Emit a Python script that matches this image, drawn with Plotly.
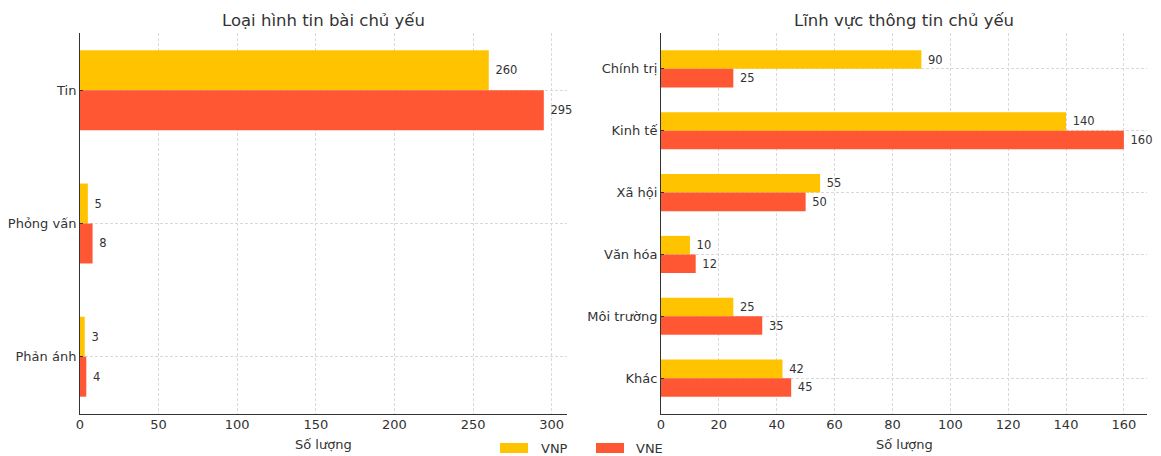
import plotly.graph_objects as go
from plotly.subplots import make_subplots

# Loại hình tin bài
types = ["Tin", "Phỏng vấn", "Phản ánh"]
types_vnp = [260, 5, 3]
types_vne = [295, 8, 4]

# Lĩnh vực thông tin
fields = ["Chính trị", "Kinh tế", "Xã hội", "Văn hóa", "Môi trường", "Khác"]
fields_vnp = [90, 140, 55, 10, 25, 42]
fields_vne = [25, 160, 50, 12, 35, 45]

series_names = ["VNP", "VNE"]
colors = ["#FFC300", "#FF5733"]

W, H = 1161, 456
FONT = "DejaVu Sans"
TXT = "#333333"

fig = make_subplots(rows=1, cols=2)


def add_pair(cats, a, b, col):
    for name, vals, c in zip(series_names, [a, b], colors):
        fig.add_trace(
            go.Bar(
                y=cats, x=vals, orientation="h", name=name,
                marker=dict(color=c, line=dict(width=0)),
                text=["\u00a0" + str(v) for v in vals], textposition="outside",
                textfont=dict(family=FONT, size=11.5, color=TXT),
                constraintext="none", cliponaxis=False, showlegend=False,
            ),
            row=1, col=col,
        )


add_pair(types, types_vnp, types_vne, 1)
add_pair(fields, fields_vnp, fields_vne, 2)

ydom = [1 - 414 / H, 1 - 33 / H]
axis_common = dict(
    showline=True, linecolor="#333333", linewidth=1, mirror=False,
    showgrid=True, gridcolor="#d9d9d9", griddash="3px,2px", gridwidth=1,
    zeroline=False, automargin=False,
    tickfont=dict(family=FONT, size=13, color=TXT),
)

fig.update_xaxes(**axis_common, ticks="", ticklabelstandoff=-2,
                 domain=[80 / W, 567 / W], range=[0, 309.75], tick0=0, dtick=50,
                 row=1, col=1)
fig.update_xaxes(**axis_common, ticks="", ticklabelstandoff=-2,
                 domain=[661 / W, 1147 / W], range=[0, 168], tick0=0, dtick=20,
                 row=1, col=2)
fig.update_yaxes(**axis_common, ticks="inside", ticklen=3, tickcolor="#333333",
                 domain=ydom, range=[2.43, -0.43], row=1, col=1)
fig.update_yaxes(**axis_common, ticks="inside", ticklen=3, tickcolor="#333333",
                 domain=ydom, range=[5.58, -0.58], row=1, col=2)

annotations = [
    dict(text="Loại hình tin bài chủ yếu", x=(80 + 567) / 2 / W, y=1 - 20 / H,
         font=dict(size=16.5)),
    dict(text="Lĩnh vực thông tin chủ yếu", x=(661 + 1147) / 2 / W, y=1 - 20 / H,
         font=dict(size=16.5)),
    dict(text="Số lượng", x=(80 + 567) / 2 / W, y=1 - 444 / H, font=dict(size=13)),
    dict(text="Số lượng", x=(661 + 1147) / 2 / W, y=1 - 444 / H, font=dict(size=13)),
    dict(text="VNP", x=539 / W, y=1 - 448 / H, xanchor="left", font=dict(size=13)),
    dict(text="VNE", x=634 / W, y=1 - 448 / H, xanchor="left", font=dict(size=13)),
]
for a in annotations:
    a.setdefault("xanchor", "center")
    a.update(xref="paper", yref="paper", yanchor="middle", showarrow=False)
    a["font"].update(family=FONT, color=TXT)

shapes = []
for x0, c in zip([500, 596], colors):
    shapes.append(dict(type="rect", xref="paper", yref="paper",
                       x0=x0 / W, x1=(x0 + 28) / W, y0=1 - 453 / H, y1=1 - 443 / H,
                       fillcolor=c, line=dict(width=0)))

fig.update_layout(
    width=W, height=H, margin=dict(l=0, r=0, t=0, b=0),
    plot_bgcolor="white", paper_bgcolor="white",
    barmode="group", bargap=0.4, bargroupgap=0,
    annotations=annotations, shapes=shapes, showlegend=False,
    font=dict(family=FONT, color=TXT),
)

fig.write_html("out.html")
